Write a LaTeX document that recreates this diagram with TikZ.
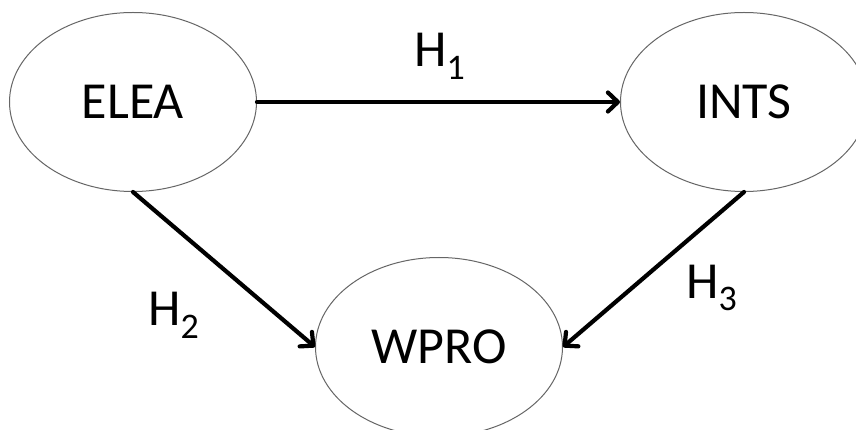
\documentclass[tikz,border=0pt]{standalone}
\usepackage{fontspec}
\setmainfont{Carlito}
\usetikzlibrary{shapes.geometric,arrows.meta}

% hypothesis label: H with a lowered subscript
\newcommand{\hyplabel}[1]{H\raisebox{-13pt}{\fontsize{36}{36}\selectfont #1}}

\begin{document}
\begin{tikzpicture}[x=1pt,y=-1pt,
  construct/.style={ellipse,draw=black!60,line width=1pt,
    minimum width=247pt,minimum height=179pt,inner sep=0pt,
    font=\fontsize{52}{52}\selectfont},
  path/.style={line width=4.2pt,line cap=round,line join=round,
    -{Straight Barb[length=10pt,width=19pt,line cap=round,line join=round]}},
  hyp/.style={anchor=base west,inner sep=0pt,font=\fontsize{52}{52}\selectfont}]
  \clip (0,0) rectangle (856,430);
  \fill[white] (0,0) rectangle (856,430);

  \node[construct] (elea) at (133,102) {ELEA};
  \node[construct] (ints) at (744,102) {INTS};
  \node[construct] (wpro) at (439,347) {WPRO};

  \draw[path] (elea.east) -- (ints.west);
  \draw[path] (elea.south) -- (wpro.west);
  \draw[path] (ints.south) -- (wpro.east);

  \node[hyp] (h1) at (414,67) {\hyplabel{1}};
  \node[hyp] (h2) at (148,325) {\hyplabel{2}};
  \node[hyp] (h3) at (686,298) {\hyplabel{3}};
\end{tikzpicture}
\end{document}
